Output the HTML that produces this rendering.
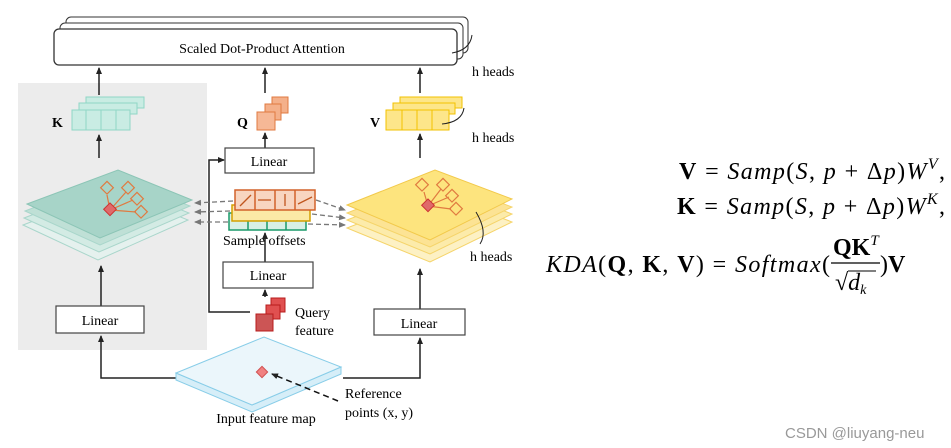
<!DOCTYPE html>
<html><head><meta charset="utf-8"><style>
body{margin:0;background:#fff;width:951px;height:448px;overflow:hidden}
svg{display:block;font-family:"Liberation Serif",serif}
.m{font-family:"Liberation Serif",serif;font-size:24px}
</style></head><body>
<svg width="951" height="448" viewBox="0 0 951 448">
<defs>
<marker id="a" markerWidth="8" markerHeight="8" refX="6" refY="4" orient="auto" markerUnits="userSpaceOnUse"><path d="M0,1 L7,4 L0,7 z" fill="#222"/></marker>
<marker id="g" markerWidth="8" markerHeight="8" refX="6" refY="4" orient="auto" markerUnits="userSpaceOnUse"><path d="M0,1 L7,4 L0,7 z" fill="#777"/></marker>
</defs>
<rect x="18" y="83" width="189" height="267" fill="#ececec"/>
<rect x="66" y="17" width="402" height="36" rx="5" fill="#fff" stroke="#333"/>
<rect x="60" y="23" width="403" height="36" rx="5" fill="#fff" stroke="#333"/>
<rect x="54" y="29" width="403" height="36" rx="5" fill="#fff" stroke="#333" stroke-width="1.3"/>
<text x="262" y="53" font-size="14" text-anchor="middle">Scaled Dot-Product Attention</text>
<path d="M452,53 Q470,50 472,35" fill="none" stroke="#222"/>
<text x="472" y="76" font-size="14">h heads</text>
<text x="472" y="142" font-size="14">h heads</text>
<text x="470" y="261" font-size="14">h heads</text>
<g stroke="#222" stroke-width="1.5" marker-end="url(#a)">
<line x1="99" y1="95" x2="99" y2="68"/><line x1="265" y1="93" x2="265" y2="68"/><line x1="420" y1="93" x2="420" y2="68"/>
<line x1="99" y1="158" x2="99" y2="135"/><line x1="265" y1="148" x2="265" y2="133"/><line x1="420" y1="158" x2="420" y2="134"/>
<line x1="101" y1="306" x2="101" y2="266"/><line x1="420" y1="309" x2="420" y2="269"/>
<line x1="265" y1="262" x2="265" y2="233"/><line x1="265" y1="297" x2="265" y2="290"/>
<polyline points="176,378 101,378 101,336" fill="none"/>
<polyline points="343,378 420,378 420,338" fill="none"/>
<polyline points="250,312 209,312 209,160 224,160" fill="none"/>
</g>
<g stroke="#8fd6c6" fill="#c9ece3">
<rect x="86" y="97" width="58" height="11"/><rect x="79" y="103" width="58" height="11"/>
<rect x="72" y="110" width="58" height="20"/>
<line x1="86" y1="110" x2="86" y2="130"/><line x1="101" y1="110" x2="101" y2="130"/><line x1="116" y1="110" x2="116" y2="130"/>
</g>
<text x="52" y="127" font-size="14" font-weight="bold">K</text>
<g stroke="#e07a40" fill="#f4b08a">
<rect x="272" y="97" width="16" height="16"/><rect x="265" y="104" width="16" height="16"/><rect x="257" y="112" width="18" height="18" fill="#f6b896"/>
</g>
<text x="237" y="127" font-size="14" font-weight="bold">Q</text>
<g stroke="#f2c200" fill="#fde68a">
<rect x="400" y="97" width="62" height="11"/><rect x="393" y="103" width="62" height="11"/>
<rect x="386" y="110" width="63" height="20"/>
<line x1="402" y1="110" x2="402" y2="130"/><line x1="417" y1="110" x2="417" y2="130"/><line x1="432" y1="110" x2="432" y2="130"/>
</g>
<path d="M442,124 Q462,122 464,108" fill="none" stroke="#222"/>
<text x="370" y="127" font-size="14" font-weight="bold">V</text>
<g fill="#fff" stroke="#444" stroke-width="1.2">
<rect x="225" y="148" width="89" height="25"/><rect x="223" y="262" width="90" height="26"/>
<rect x="56" y="306" width="88" height="27"/><rect x="374" y="309" width="91" height="26"/>
</g>
<g font-size="14" text-anchor="middle"><text x="269" y="166">Linear</text><text x="268" y="280">Linear</text><text x="100" y="325">Linear</text><text x="419" y="328">Linear</text></g>
<g stroke="#a9d6cb" fill="#e5f1ee">
<polygon points="23,225 114,190 188,220 98,260"/>
<polygon points="24,218 115,183 189,213 99,252" fill="#d3ebe4"/>
<polygon points="25,211 116,176 190,206 100,245" fill="#bfe0d6"/>
<polygon points="27,204 118,170 192,200 100,238" fill="#a7d4c8" stroke="#8cc5b6"/>
</g>
<g stroke="#f5d46a" fill="#fdf1c4">
<polygon points="347,228 437,193 512,222 430,262"/>
<polygon points="347,220 437,185 512,214 430,254" fill="#fcebaa"/>
<polygon points="347,213 436,178 512,207 430,247" fill="#fce394"/>
<polygon points="347,205 435,170 512,199 430,240" fill="#fde47e" stroke="#f2c94a"/>
</g>
<path d="M476,212 Q488,232 480,244" fill="none" stroke="#222"/>
<g stroke="#e07a40" fill="none" stroke-width="1.2">
<rect x="103" y="183" width="9" height="9" transform="rotate(45 107 187)"/><rect x="124" y="183" width="9" height="9" transform="rotate(45 128 187)"/><rect x="133" y="194" width="9" height="9" transform="rotate(45 137 198)"/><rect x="137" y="207" width="9" height="9" transform="rotate(45 141 211)"/>
<line x1="110" y1="210" x2="107" y2="195"/><line x1="110" y1="210" x2="126" y2="192"/><line x1="110" y1="210" x2="133" y2="200"/><line x1="110" y1="210" x2="136" y2="212"/>
<rect x="418" y="180" width="9" height="9" transform="rotate(45 422 184)"/><rect x="439" y="180" width="9" height="9" transform="rotate(45 443 184)"/><rect x="448" y="191" width="9" height="9" transform="rotate(45 452 195)"/><rect x="452" y="204" width="9" height="9" transform="rotate(45 456 208)"/>
<line x1="428" y1="206" x2="424" y2="192"/><line x1="428" y1="206" x2="441" y2="189"/><line x1="428" y1="206" x2="449" y2="197"/><line x1="428" y1="206" x2="451" y2="209"/>
</g>
<rect x="105" y="205" width="9" height="9" transform="rotate(45 110 210)" fill="#e06a6a" stroke="#c33"/>
<rect x="423" y="201" width="9" height="9" transform="rotate(45 428 206)" fill="#e06a6a" stroke="#c33"/>
<g stroke="#1a9a6a" fill="#d8f0e6" stroke-width="1.5"><rect x="229" y="213" width="77" height="17"/><line x1="248" y1="213" x2="248" y2="230"/><line x1="267" y1="213" x2="267" y2="230"/><line x1="286" y1="213" x2="286" y2="230"/></g>
<g stroke="#d4a000" fill="#fbe9a6" stroke-width="1.5"><rect x="232" y="205" width="78" height="16"/></g>
<g stroke="#d2622a" fill="#f8d5c0" stroke-width="1.5"><rect x="235" y="190" width="80" height="20"/><line x1="255" y1="190" x2="255" y2="210"/><line x1="275" y1="190" x2="275" y2="210"/><line x1="295" y1="190" x2="295" y2="210"/></g>
<g stroke="#c0561e" stroke-width="1.3"><line x1="240" y1="206" x2="251" y2="195"/><line x1="258" y1="200" x2="271" y2="200"/><line x1="285" y1="206" x2="285" y2="194"/><line x1="298" y1="204" x2="312" y2="197"/></g>
<text x="223" y="245" font-size="14">Sample offsets</text>
<g stroke="#777" stroke-width="1.3" stroke-dasharray="5,3" marker-end="url(#g)">
<line x1="233" y1="201" x2="195" y2="203"/><line x1="230" y1="211" x2="195" y2="212"/><line x1="228" y1="222" x2="195" y2="222"/>
<line x1="316" y1="200" x2="345" y2="210"/><line x1="312" y1="214" x2="345" y2="218"/><line x1="308" y1="224" x2="345" y2="225"/>
</g>
<g stroke="#b81c1c" fill="#e05050">
<rect x="271" y="298" width="14" height="14"/><rect x="266" y="305" width="14" height="14"/><rect x="256" y="314" width="17" height="17" fill="#cc5555"/>
</g>
<text x="295" y="317" font-size="14">Query</text><text x="295" y="335" font-size="14">feature</text>
<polygon points="176,380 252,412 341,374 341,367 252,405 176,373" fill="#d6eef8" stroke="#88cde8"/>
<polygon points="176,373 264,337 341,367 252,405" fill="#ebf6fb" stroke="#88cde8"/>
<rect x="258" y="368" width="8" height="8" transform="rotate(45 262 372)" fill="#f08080" stroke="#d05050"/>
<line x1="338" y1="401" x2="272" y2="374" stroke="#111" stroke-width="1.5" stroke-dasharray="6,4" marker-end="url(#a)"/>
<text x="266" y="423" font-size="14" text-anchor="middle">Input feature map</text>
<text x="345" y="398" font-size="14">Reference</text><text x="345" y="417" font-size="14">points (x, y)</text>
<text class="m" x="679" y="179" textLength="266" lengthAdjust="spacing"><tspan font-weight="bold">V</tspan> = <tspan font-style="italic">Samp</tspan>(<tspan font-style="italic">S</tspan>, <tspan font-style="italic">p</tspan> + Δ<tspan font-style="italic">p</tspan>)<tspan font-style="italic">W</tspan><tspan font-size="16" dy="-10" font-style="italic">V</tspan><tspan dy="10">,</tspan></text>
<text class="m" x="677" y="214" textLength="268" lengthAdjust="spacing"><tspan font-weight="bold">K</tspan> = <tspan font-style="italic">Samp</tspan>(<tspan font-style="italic">S</tspan>, <tspan font-style="italic">p</tspan> + Δ<tspan font-style="italic">p</tspan>)<tspan font-style="italic">W</tspan><tspan font-size="16" dy="-10" font-style="italic">K</tspan><tspan dy="10">,</tspan></text>
<text class="m" x="546" y="272" textLength="284" lengthAdjust="spacing"><tspan font-style="italic">KDA</tspan>(<tspan font-weight="bold">Q</tspan>, <tspan font-weight="bold">K</tspan>, <tspan font-weight="bold">V</tspan>) = <tspan font-style="italic">Softmax</tspan>(</text>
<text class="m" x="833" y="255" font-weight="bold">QK<tspan font-size="15" dy="-10" font-weight="normal" font-style="italic">T</tspan></text>
<line x1="831" y1="263" x2="880" y2="263" stroke="#000" stroke-width="1.2"/>
<text class="m" x="835" y="290">√<tspan font-style="italic">d</tspan><tspan font-size="14" dy="4" font-style="italic">k</tspan></text>
<line x1="848" y1="271" x2="876" y2="271" stroke="#000"/>
<text class="m" x="880" y="272">)<tspan font-weight="bold">V</tspan></text>
<text x="785" y="438" font-size="15" fill="#999" font-family="Liberation Sans,sans-serif">CSDN @liuyang-neu</text>
</svg>
</body></html>
